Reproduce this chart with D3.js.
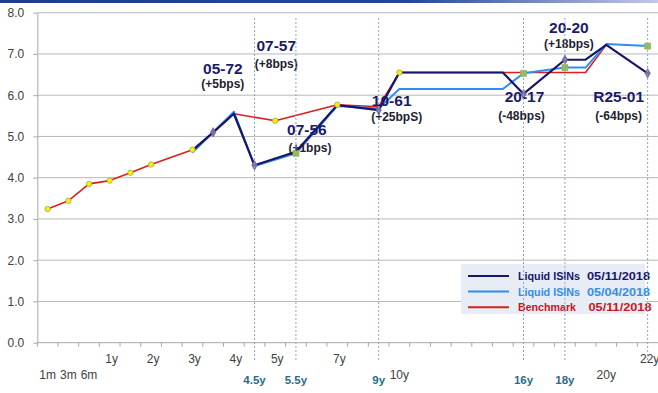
<!DOCTYPE html>
<html>
<head>
<meta charset="utf-8">
<script src="https://cdn.jsdelivr.net/npm/d3@7"></script>
<style>
  html, body { margin: 0; padding: 0; background: #fff; }
  svg { display: block; font-family: "Liberation Sans", Arial, sans-serif; }
</style>
</head>
<body>
<svg id="chart" width="658" height="393"></svg>
<script>
// Tenor buckets on the category axis (blank = unlabelled bucket)
const tenors = ["1m","3m","6m","1y","","2y","","3y","","4y","4.5y","5y","5.5y","","7y",
                "","9y","10y","","","","","","16y","","18y","","20y","","22y"];

// Yields (%) per tenor bucket; null = no quote in that bucket
const benchmark = [3.24,3.44,3.85,3.93,4.12,4.32,null,4.68,5.10,5.55,null,5.38,null,null,5.77,
                   null,5.72,6.55,null,null,null,null,6.55,6.55,null,6.55,6.55,7.22,null,null];
const liquidLatest = [null,null,null,null,null,null,null,4.66,5.10,5.55,4.30,null,4.63,null,5.76,
                      null,5.64,6.55,null,null,null,null,6.55,6.03,null,6.86,6.86,7.22,null,6.53];
const liquidPrior = [null,null,null,null,null,null,null,4.61,5.10,5.60,4.28,null,4.59,null,5.74,
                     null,5.68,6.15,null,null,null,null,6.15,6.53,null,6.67,6.67,7.24,null,7.19];

// Buckets carrying a point marker for each series
const benchmarkMarked = [0,1,2,3,4,5,7,11,14,17];
const latestMarked = [8,10,16,23,25,29];
const priorMarked = [12,23,25,29];

// Axis ticks and label groups
const yTicks = [0,1,2,3,4,5,6,7,8];
const keyTenors = ["4.5y","5.5y","9y","16y","18y","22y"];
const boldTenors = ["4.5y","5.5y","9y","16y","18y"];
const shortTenors = ["1m","3m","6m","10y","20y"];

// Bond callouts: ISIN code and change in yield
const callouts = [
  { code: "05-72", change: "(+5bps)", tenor: "4y" },
  { code: "07-57", change: "(+8bps)", tenor: "5y" },
  { code: "07-56", change: "(+1bps)", tenor: "5.5y" },
  { code: "10-61", change: "(+25bpS)", tenor: "9y" },
  { code: "20-20", change: "(+18bps)", tenor: "18y" },
  { code: "20-17", change: "(-48bps)", tenor: "16y" },
  { code: "R25-01", change: "(-64bps)", tenor: "22y" }
];

const seriesNames = ["Liquid ISINs", "Liquid ISINs", "Benchmark"];
const seriesDates = ["05/11/2018", "05/04/2018", "05/11/2018"];

// ---- layout ----
const W = 658, H = 393;
const plot = { left: 37.3, right: 658, top: 12.7, bottom: 342.7 };
const colors = { latest: "#16166E", prior: "#2F8EF5", bench: "#D8201C" };

// callout placement: offset from the tenor centre (px) and height (yield units)
const calloutLayout = {
  "05-72":  { dx: -11, level: 6.65, cdx: 0,  cdy: 16 },
  "07-57":  { dx: 1,   level: 7.20, cdx: 0,  cdy: 18 },
  "07-56":  { dx: 11,  level: 5.17, cdx: 3,  cdy: 19 },
  "10-61":  { dx: 13,  level: 5.88, cdx: 5,  cdy: 17 },
  "20-20":  { dx: 4,   level: 7.64, cdx: 0,  cdy: 16 },
  "20-17":  { dx: 1,   level: 5.96, cdx: -3, cdy: 19 },
  "R25-01": { dx: -29, level: 5.96, cdx: 0,  cdy: 19 }
};

const svg = d3.select("#chart");

const x = d3.scaleBand().domain(d3.range(tenors.length)).range([plot.left, plot.right]);
const cx = i => x(i) + x.bandwidth() / 2;
const y = d3.scaleLinear().domain([0, 8]).range([plot.bottom, plot.top]);

// header strip
const defs = svg.append("defs");
const grad = defs.append("linearGradient").attr("id", "strip").attr("x1", "0").attr("x2", "1");
grad.append("stop").attr("offset", "0").attr("stop-color", "#1F3C8E");
grad.append("stop").attr("offset", "0.62").attr("stop-color", "#25449A");
grad.append("stop").attr("offset", "1").attr("stop-color", "#C4CAE6");
svg.append("rect").attr("x", 0).attr("y", 0).attr("width", W).attr("height", 3).attr("fill", "url(#strip)");

// horizontal gridlines
svg.append("g").selectAll("line").data(yTicks.filter(v => v > 0)).join("line")
  .attr("x1", plot.left).attr("x2", plot.right)
  .attr("y1", d => y(d)).attr("y2", d => y(d))
  .attr("stroke", "#B8B8B8").attr("stroke-width", 1);

// y axis
const yAxis = svg.append("g").attr("transform", `translate(${plot.left},0)`)
  .call(d3.axisLeft(y).tickValues(yTicks).tickFormat(d3.format(".1f")).tickSize(4).tickSizeOuter(0).tickPadding(9));
yAxis.select(".domain").attr("stroke", "#A8A8A8");
yAxis.selectAll(".tick line").attr("stroke", "#A8A8A8");
yAxis.selectAll(".tick text").attr("font-size", 12).attr("fill", "#404040")
  .attr("font-family", "'Liberation Sans', Arial, sans-serif");

// x axis line and bucket-boundary ticks
const gx = svg.append("g");
gx.append("line").attr("x1", plot.left).attr("x2", plot.right)
  .attr("y1", y(0)).attr("y2", y(0)).attr("stroke", "#A8A8A8");
gx.selectAll("line.tk").data(d3.range(tenors.length)).join("line").attr("class", "tk")
  .attr("x1", d => x(d)).attr("x2", d => x(d))
  .attr("y1", y(0)).attr("y2", y(0) + 4).attr("stroke", "#A8A8A8");

// x labels
const labelled = tenors.map((t, i) => ({ t, i })).filter(d => d.t !== "");
gx.selectAll("text").data(labelled).join("text")
  .attr("x", d => cx(d.i) + (boldTenors.includes(d.t) || shortTenors.includes(d.t) ? 0 : 2))
  .attr("y", d => boldTenors.includes(d.t) ? 383.5 : shortTenors.includes(d.t) ? 378.5 : 363)
  .attr("text-anchor", "middle")
  .attr("font-size", d => boldTenors.includes(d.t) ? 11.5 : 12)
  .attr("font-weight", d => boldTenors.includes(d.t) ? "bold" : "normal")
  .attr("fill", d => boldTenors.includes(d.t) ? "#2C6A88" : "#404040")
  .text(d => d.t);

// series lines
const toPoints = arr => arr.map((v, i) => ({ i, v })).filter(d => d.v !== null);
const line = d3.line().x(d => cx(d.i)).y(d => y(d.v));
const series = [
  { key: "bench", values: benchmark, color: colors.bench, width: 1.6 },
  { key: "prior", values: liquidPrior, color: colors.prior, width: 2 },
  { key: "latest", values: liquidLatest, color: colors.latest, width: 2.2 }
];
svg.append("g").selectAll("path").data(series).join("path")
  .attr("d", d => line(toPoints(d.values)))
  .attr("fill", "none").attr("stroke", d => d.color).attr("stroke-width", d => d.width)
  .attr("stroke-linejoin", "round");

// markers
const mk = svg.append("g");
mk.selectAll("circle").data(benchmarkMarked).join("circle")
  .attr("cx", i => cx(i)).attr("cy", i => y(benchmark[i])).attr("r", 2.7)
  .attr("fill", "#F4F400").attr("stroke", "#A3A35A").attr("stroke-width", 0.8);
mk.selectAll("path.dm").data(latestMarked).join("path").attr("class", "dm")
  .attr("d", d3.symbol(d3.symbolDiamond, 26))
  .attr("transform", i => `translate(${cx(i)},${y(liquidLatest[i])})`)
  .attr("fill", "#7C6E9E").attr("stroke", "#6C6090").attr("stroke-width", 0.6);
mk.selectAll("path.sq").data(priorMarked).join("path").attr("class", "sq")
  .attr("d", d3.symbol(d3.symbolSquare, 36))
  .attr("transform", i => `translate(${cx(i)},${y(liquidPrior[i])})`)
  .attr("fill", "#9BBB59").attr("stroke", "#8AAA4C").attr("stroke-width", 0.6);

// callouts
const cg = svg.append("g").selectAll("g").data(callouts).join("g")
  .attr("transform", d => {
    const L = calloutLayout[d.code];
    return `translate(${cx(tenors.indexOf(d.tenor)) + L.dx},${y(L.level)})`;
  });
cg.append("text").attr("text-anchor", "middle").attr("dominant-baseline", "central")
  .attr("font-size", 15.5).attr("font-weight", "bold").attr("fill", "#1B1B6A")
  .text(d => d.code);
cg.append("text").attr("text-anchor", "middle").attr("dominant-baseline", "central")
  .attr("x", d => calloutLayout[d.code].cdx).attr("y", d => calloutLayout[d.code].cdy)
  .attr("font-size", 12).attr("font-weight", "bold").attr("fill", "#1E1E30")
  .text(d => d.change);

// legend
const lg = svg.append("g");
lg.append("rect").attr("x", 461).attr("y", 264).attr("width", 184).attr("height", 50)
  .attr("fill", "#E8ECF5");
const legendColors = [colors.latest, colors.prior, "#C8161C"];
const lineColors = [colors.latest, colors.prior, colors.bench];
const rows = lg.selectAll("g").data(seriesNames).join("g")
  .attr("transform", (d, i) => `translate(0,${276 + i * 15.6})`);
rows.append("line").attr("x1", 468).attr("x2", 509).attr("y1", 0).attr("y2", 0)
  .attr("stroke", (d, i) => lineColors[i]).attr("stroke-width", 2);
rows.append("text").attr("x", 518).attr("y", 0).attr("dominant-baseline", "central")
  .attr("font-size", 11.5).attr("font-weight", "bold").attr("fill", (d, i) => legendColors[i])
  .attr("textLength", (d, i) => i === 2 ? 58 : 62).attr("lengthAdjust", "spacingAndGlyphs")
  .text(d => d);
rows.append("text").attr("x", (d, i) => i === 2 ? 588.5 : 587).attr("y", 0).attr("dominant-baseline", "central")
  .attr("font-size", 11.5).attr("font-weight", "bold").attr("fill", (d, i) => legendColors[i])
  .attr("textLength", 63).attr("lengthAdjust", "spacingAndGlyphs")
  .text((d, i) => seriesDates[i]);

// dotted guides at the key tenors
svg.append("g").selectAll("line").data(keyTenors).join("line")
  .attr("x1", t => cx(tenors.indexOf(t))).attr("x2", t => cx(tenors.indexOf(t)))
  .attr("y1", 18).attr("y2", 362)
  .attr("stroke", "#7FA6D4").attr("stroke-width", 1).attr("stroke-dasharray", "2,2");
</script>
</body>
</html>
